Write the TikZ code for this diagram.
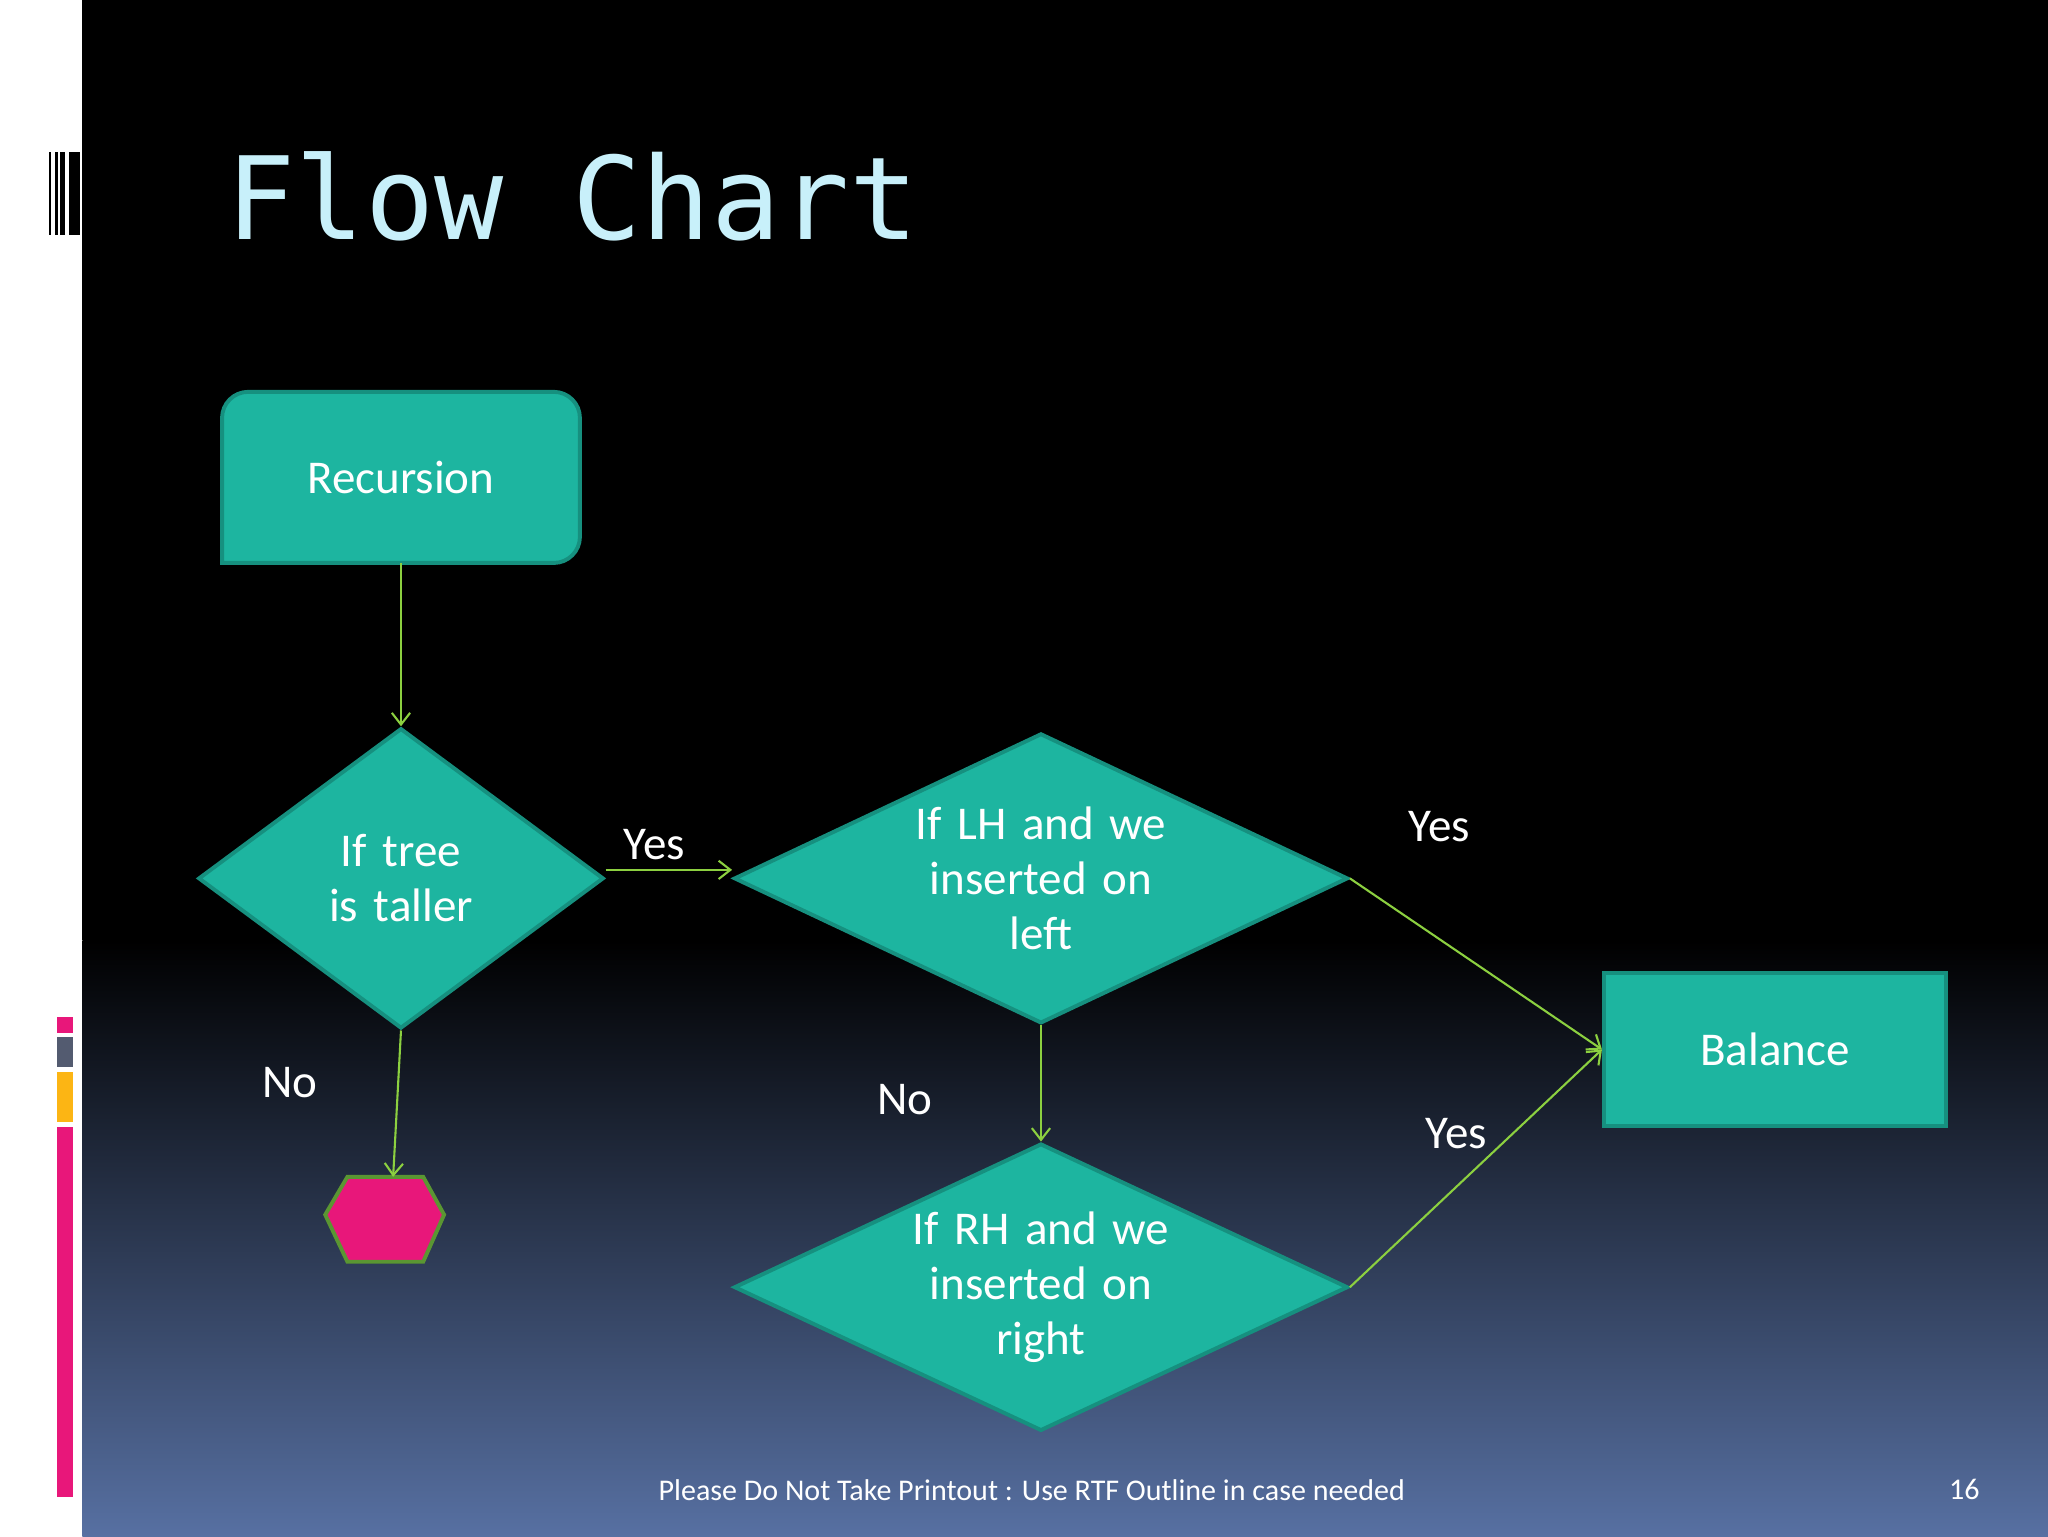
\documentclass[tikz,border=0pt]{standalone}
\usepackage{fontspec}
\setmainfont{Carlito}
\newfontfamily\monofont{DejaVu Sans Mono}
\usetikzlibrary{shapes.geometric,arrows.meta}
\definecolor{teal1}{HTML}{1DB5A0}
\definecolor{teal2}{HTML}{16907F}
\definecolor{arr}{HTML}{8CD040}
\definecolor{bgblue}{HTML}{5770A2}
\definecolor{pinkc}{HTML}{E8177A}
\definecolor{grayc}{HTML}{535B70}
\definecolor{yelc}{HTML}{FCB514}
\definecolor{titlec}{HTML}{C8F0FA}
\definecolor{hexb}{HTML}{5A9632}
\begin{document}
\begin{tikzpicture}[x=1pt,y=-1pt,
  box/.style={fill=teal1,draw=teal2,line width=3pt,text=white,font=\fontsize{36}{42}\selectfont,align=center},
  dia/.style={diamond,box,inner sep=0pt,text width=220pt},
  lbl/.style={text=white,font=\fontsize{36}{40}\selectfont},
  conn/.style={draw=arr,line width=1.6pt,-{Straight Barb[length=9pt,width=14pt]}}]
\useasboundingbox (0,0) rectangle (1568,1176);
\fill[white] (0,0) rectangle (63,1176);
\fill[black] (63,0) rectangle (1568,720);
\shade[top color=black,bottom color=bgblue] (63,720) rectangle (1568,1176);
% barcode
\foreach \a/\b in {37.5/39,42/44.5,46/50,53/61} \fill[black] (\a,116) rectangle (\b,180);
% color bars
\fill[pinkc] (43.6,779) rectangle (56,791);
\fill[grayc] (43.6,794) rectangle (56,817);
\fill[yelc] (43.6,821) rectangle (56,859);
\fill[pinkc] (43.6,863) rectangle (56,1146);
% title
\node[anchor=west,text=titlec,font=\monofont\fontsize{88}{90}\selectfont] (title) at (170,150) {Flow Chart};
% recursion box
\draw[fill=teal1,draw=teal2,line width=3pt,rounded corners=20pt] (170,431) -- (170,300) -- (444,300) -- (444,431) [sharp corners]-- cycle;
\node[text=white,font=\fontsize{36}{42}\selectfont,minimum width=274pt,minimum height=131pt] (rec) at (307,365.5) {Recursion};
% diamonds
\node[dia,minimum width=300pt,minimum height=222pt,shape aspect=1.35] (d1) at (307,672.5) {If tree\\is taller};
\node[dia,minimum width=470pt,minimum height=222pt,shape aspect=2.1] (d2) at (797,672.5) {If LH and we\\inserted on\\left};
\node[dia,minimum width=470pt,minimum height=220pt,shape aspect=2.1] (d3) at (797,985.5) {If RH and we\\inserted on\\right};
\node[box,rectangle,minimum width=262pt,minimum height=117pt] (bal) at (1359,803.5) {Balance};
% hexagon
\draw[fill=pinkc,draw=hexb,line width=3pt] (249,930) -- (266,901) -- (324,901) -- (340,930) -- (324,966) -- (266,966) -- cycle;
\coordinate (hex) at (301,901);
% connectors
\draw[conn] (d1.east |- 0,666) -- (d2.west |- 0,666);
\draw[conn] (rec.south) -- (d1.north);
\draw[conn] (d1.south) -- (hex);
\draw[conn] (d2.south) -- (d3.north);
\draw[conn] (d2.east) -- (bal.west);
\draw[conn] (d3.east) -- (bal.west);
% labels
\node[lbl] (y1) at (501,647) {Yes};
\node[lbl] (y2) at (1102,633) {Yes};
\node[lbl] (y3) at (1115,868) {Yes};
\node[lbl] (n1) at (222,829) {No};
\node[lbl] (n2) at (693,842) {No};
\node[text=white,font=\fontsize{23}{26}\selectfont] (foot) at (790,1141) {Please Do Not Take Printout : Use RTF Outline in case needed};
\node[text=white,font=\fontsize{23}{26}\selectfont] (pg) at (1504,1140) {16};
\end{tikzpicture}
\end{document}
